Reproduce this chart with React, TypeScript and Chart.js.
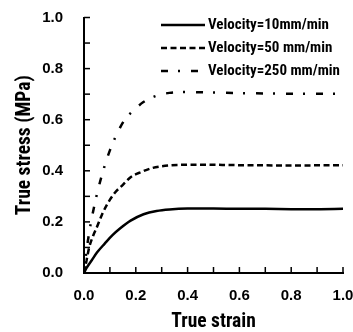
import React, { useEffect, useRef } from "react";
import { Chart, registerables } from "chart.js";

Chart.register(...registerables);

const STRAIN_10 = [0, 0.01, 0.03, 0.05, 0.08, 0.11, 0.14, 0.18, 0.23, 0.28, 0.33, 0.4, 0.5, 0.6, 0.7, 0.8, 0.9, 1.0];
const STRESS_10 = [0, 0.02, 0.05, 0.08, 0.115, 0.148, 0.175, 0.205, 0.23, 0.243, 0.249, 0.252, 0.252, 0.251, 0.251, 0.25, 0.25, 0.251];

const STRAIN_50 = [0, 0.01, 0.02, 0.035, 0.05, 0.07, 0.09, 0.12, 0.15, 0.18, 0.22, 0.26, 0.3, 0.36, 0.45, 0.6, 0.8, 1.0];
const STRESS_50 = [0, 0.05, 0.1, 0.145, 0.18, 0.23, 0.27, 0.315, 0.345, 0.375, 0.395, 0.41, 0.418, 0.423, 0.424, 0.422, 0.421, 0.422];

const STRAIN_250 = [0, 0.01, 0.022, 0.035, 0.055, 0.08, 0.1, 0.125, 0.157, 0.19, 0.228, 0.27, 0.33, 0.4, 0.46, 0.6, 0.8, 1.0];
const STRESS_250 = [0, 0.09, 0.17, 0.24, 0.33, 0.42, 0.48, 0.54, 0.6, 0.635, 0.668, 0.69, 0.705, 0.708, 0.707, 0.704, 0.702, 0.702];

const SERIES_LABELS = ["Velocity=10mm/min", "Velocity=50 mm/min", "Velocity=250 mm/min"];
const MINOR_TICKS = [0, 0.1, 0.2, 0.3, 0.4, 0.5, 0.6, 0.7, 0.8, 0.9, 1.0];

const COND = "'Roboto Condensed', 'Liberation Sans', Arial, sans-serif";
const SANS = "'Liberation Sans', Arial, sans-serif";

const pts = (xs: number[], ys: number[]) => xs.map((x, i) => ({ x, y: ys[i] }));

const tickPlugin = {
  id: "inwardTicks",
  afterDraw(chart: any) {
    const { ctx, chartArea, scales } = chart;
    ctx.save();
    ctx.strokeStyle = "#000";
    ctx.lineWidth = 1.5;
    ctx.setLineDash([]);
    for (const v of MINOR_TICKS) {
      const px = scales.x.getPixelForValue(v);
      ctx.beginPath();
      ctx.moveTo(px, chartArea.bottom);
      ctx.lineTo(px, chartArea.bottom - 6);
      ctx.stroke();
      const py = scales.y.getPixelForValue(v);
      ctx.beginPath();
      ctx.moveTo(chartArea.left, py);
      ctx.lineTo(chartArea.left + 6, py);
      ctx.stroke();
    }
    ctx.restore();
  },
};

const legendPlugin = {
  id: "insideLegend",
  afterDraw(chart: any) {
    const { ctx, chartArea } = chart;
    ctx.save();
    const lineX0 = chartArea.right - 182;
    const lineX1 = chartArea.right - 138;
    const textX = chartArea.right - 135;
    chart.data.datasets.forEach((ds: any, i: number) => {
      const y = chartArea.top + 7.5 + i * 23;
      ctx.strokeStyle = "#000";
      ctx.lineWidth = ds.borderWidth;
      ctx.setLineDash(ds.borderDash || []);
      ctx.beginPath();
      ctx.moveTo(lineX0, y);
      ctx.lineTo(lineX1, y);
      ctx.stroke();
      ctx.setLineDash([]);
      ctx.fillStyle = "#000";
      ctx.font = `bold 15px ${COND}`;
      ctx.textBaseline = "middle";
      ctx.textAlign = "left";
      ctx.fillText(ds.label, textX, y);
    });
    ctx.restore();
  },
};

export default function App() {
  const ref = useRef<HTMLCanvasElement>(null);
  useEffect(() => {
    if (!ref.current) return;
    const chart = new Chart(ref.current, {
      type: "line",
      data: {
        datasets: [
          { label: SERIES_LABELS[0], data: pts(STRAIN_10, STRESS_10), borderColor: "#000", borderWidth: 2.5, pointRadius: 0, tension: 0.4, cubicInterpolationMode: "monotone", borderDash: [] },
          { label: SERIES_LABELS[1], data: pts(STRAIN_50, STRESS_50), borderColor: "#000", borderWidth: 2.5, pointRadius: 0, tension: 0.4, cubicInterpolationMode: "monotone", borderDash: [6, 3.5] },
          { label: SERIES_LABELS[2], data: pts(STRAIN_250, STRESS_250), borderColor: "#000", borderWidth: 2.5, pointRadius: 0, tension: 0.4, cubicInterpolationMode: "monotone", borderDash: [7, 10, 2, 11] },
        ],
      } as any,
      options: {
        animation: false,
        responsive: true,
        maintainAspectRatio: false,
        layout: { padding: { top: 17.5, right: 10, left: 0, bottom: 0 } },
        plugins: { legend: { display: false }, tooltip: { enabled: false } },
        scales: {
          x: {
            type: "linear", min: 0, max: 1,
            grid: { display: false, drawTicks: false, tickLength: 0 },
            border: { display: true, color: "#000", width: 2 },
            ticks: { stepSize: 0.2, padding: 14, color: "#000", font: { family: SANS, size: 15, weight: "bold" }, callback: (v: any) => Number(v).toFixed(1), maxRotation: 0 },
            title: { display: true, text: "True strain", color: "#000", font: { family: COND, size: 19.5, weight: "bold", lineHeight: 1 }, padding: { top: 0, bottom: 0 } },
            afterFit: (s: any) => { s.height = 59; s.paddingLeft = 0; s.paddingRight = 0; },
          },
          y: {
            type: "linear", min: 0, max: 1,
            grid: { display: false, drawTicks: false, tickLength: 0 },
            border: { display: true, color: "#000", width: 2 },
            ticks: { stepSize: 0.2, padding: 21, color: "#000", font: { family: SANS, size: 15, weight: "bold" }, callback: (v: any) => Number(v).toFixed(1) },
            title: { display: true, text: "True stress (MPa)", color: "#000", font: { family: COND, size: 19.5, weight: "bold", lineHeight: 1 }, padding: { top: 15, bottom: 0 } },
            afterFit: (s: any) => { s.width = 84; s.paddingTop = 0; s.paddingBottom = 0; },
          },
        },
      } as any,
      plugins: [tickPlugin, legendPlugin],
    });
    return () => chart.destroy();
  }, []);
  return (
    <div style={{ position: "absolute", left: 0, top: 0, width: 353, height: 332 }}>
      <canvas ref={ref} />
    </div>
  );
}
